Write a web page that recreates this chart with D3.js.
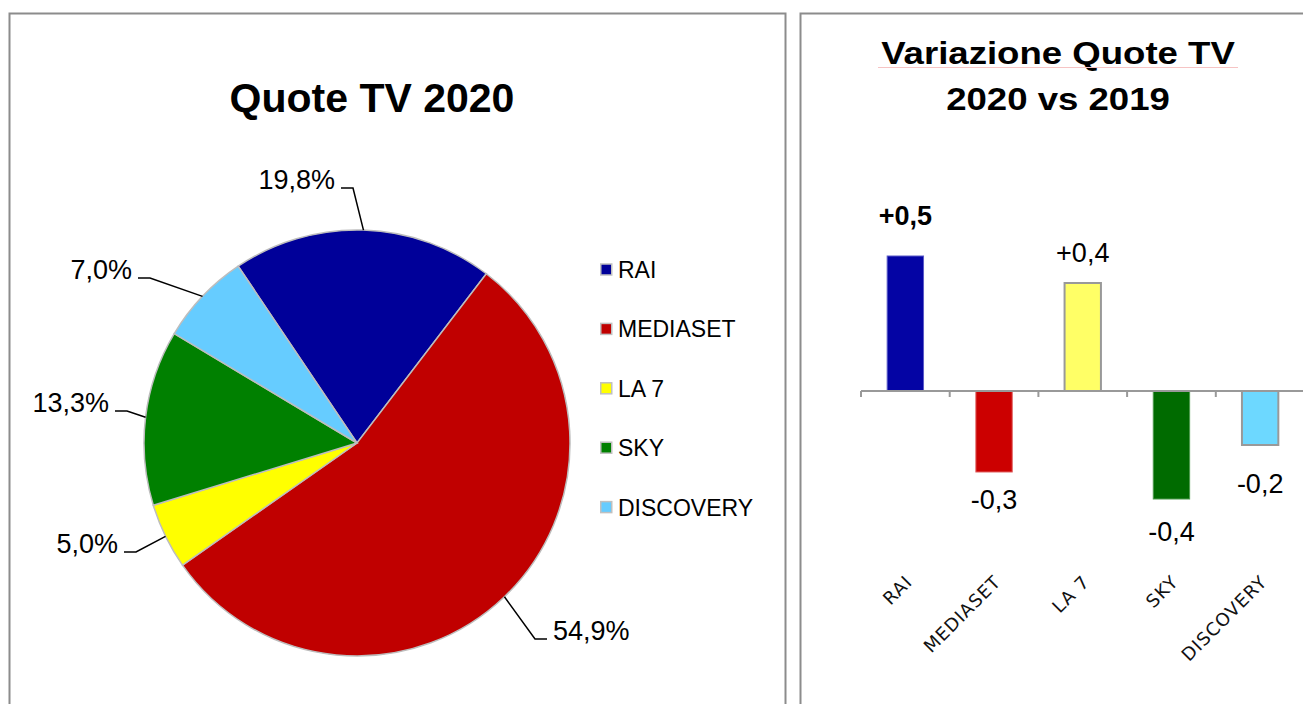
<!DOCTYPE html>
<html>
<head>
<meta charset="utf-8">
<script src="https://cdn.jsdelivr.net/npm/d3@7"></script>
<style>
  body { margin: 0; background: #fff; }
  svg { display: block; font-family: "Liberation Sans", Arial, sans-serif; }
</style>
</head>
<body>
<svg id="chart" width="1303" height="704"></svg>
<script>
// data
var categories = ["RAI", "MEDIASET", "LA 7", "SKY", "DISCOVERY"];
var shares2020 = [19.8, 54.9, 5.0, 13.3, 7.0];
var shareLabels = ["19,8%", "54,9%", "5,0%", "13,3%", "7,0%"];
var delta2020vs2019 = [0.5, -0.3, 0.4, -0.4, -0.2];
var deltaLabels = ["+0,5", "-0,3", "+0,4", "-0,4", "-0,2"];

var pieColors = ["#000099", "#C00000", "#FFFF00", "#008000", "#66CCFF"];
var barColors = ["#0404A4", "#CC0000", "#FFFF66", "#006B00", "#6DD8FF"];
var barStrokes = ["#5a5ac8", "#e06060", "#999999", "#4d9a4d", "#999999"];

// layout for the leader line elbows (relative to pie center) and bar label gaps
var elbowOffsets = [[-4, -255], [178, 196], [-221, 109], [-230, -32], [-207, -165]];
var valueGaps = [31, 37, 21, 42, 48];

var svg = d3.select("#chart");

// panel frames
svg.append("rect")
  .attr("x", 9.5).attr("y", 13.5)
  .attr("width", 776).attr("height", 720)
  .style("fill", "none").style("stroke", "#8c8c8c").style("stroke-width", 2);

svg.append("rect")
  .attr("x", 800.5).attr("y", 13.5)
  .attr("width", 540).attr("height", 720)
  .style("fill", "none").style("stroke", "#8c8c8c").style("stroke-width", 2);

// ---------- pie ----------
svg.append("text")
  .attr("x", 372).attr("y", 112)
  .attr("text-anchor", "middle")
  .style("font-size", "41px").style("font-weight", "bold")
  .text("Quote TV 2020");

var cx = 357, cy = 443, radius = 213;
var startAng = -33.9 * Math.PI / 180;

var pie = d3.pie().sort(null)
  .startAngle(startAng).endAngle(startAng + 2 * Math.PI);
var arcs = pie(shares2020);
var arc = d3.arc().innerRadius(0).outerRadius(radius);

var pieG = svg.append("g").attr("transform", "translate(" + cx + "," + cy + ")");

pieG.selectAll("path.slice")
  .data(arcs)
  .enter().append("path")
  .attr("class", "slice")
  .attr("d", arc)
  .style("fill", function(d, i) { return pieColors[i]; })
  .style("stroke", "#bdbdbd")
  .style("stroke-width", 1.5);

// leader lines + labels
arcs.forEach(function(d, i) {
  var mid = (d.startAngle + d.endAngle) / 2;
  var ex = Math.sin(mid) * radius, ey = -Math.cos(mid) * radius;
  var el = elbowOffsets[i];
  var dir = el[0] > 0 ? 1 : -1;
  var tailX = el[0] + dir * 12;

  pieG.append("path")
    .attr("d", "M" + ex + "," + ey + "L" + el[0] + "," + el[1] + "L" + tailX + "," + el[1])
    .style("fill", "none").style("stroke", "#000").style("stroke-width", 1.5);

  pieG.append("text")
    .attr("x", tailX + dir * 6)
    .attr("y", el[1] + 1)
    .attr("text-anchor", dir > 0 ? "start" : "end")
    .style("font-size", "27px")
    .text(shareLabels[i]);
});

// legend
var legend = svg.append("g").attr("transform", "translate(600,270)");
categories.forEach(function(c, i) {
  var row = legend.append("g").attr("transform", "translate(0," + (i * 59.4) + ")");
  row.append("rect")
    .attr("x", 0.75).attr("y", -6)
    .attr("width", 11).attr("height", 11)
    .style("fill", pieColors[i])
    .style("stroke", "#c0c0c0").style("stroke-width", 1.5);
  row.append("text")
    .attr("x", 18).attr("y", 8)
    .style("font-size", "23px")
    .text(c);
});

// ---------- bars ----------
// title is drawn a bit wider than the font, like the original
var title2 = svg.append("text")
  .attr("transform", "translate(1058,0) scale(1.18,1)")
  .attr("text-anchor", "middle")
  .style("font-size", "31px").style("font-weight", "bold");
title2.append("tspan").attr("x", 0).attr("y", 64).text("Variazione Quote TV");
title2.append("tspan").attr("x", 0).attr("y", 110).text("2020 vs 2019");

svg.append("line")
  .attr("x1", 878).attr("x2", 1238).attr("y1", 67.5).attr("y2", 67.5)
  .style("stroke", "#f6c4c4").style("stroke-width", 1);

var x = d3.scaleBand().domain(categories)
  .range([861, 1304.5])
  .paddingInner(0.59).paddingOuter(0.295);

var y = d3.scaleLinear().domain([-0.6, 0.6]).range([553, 229]);

var barG = svg.append("g");

barG.selectAll("rect.bar")
  .data(delta2020vs2019)
  .enter().append("rect")
  .attr("class", "bar")
  .attr("x", function(d, i) { return x(categories[i]); })
  .attr("y", function(d) { return y(Math.max(0, d)); })
  .attr("width", x.bandwidth())
  .attr("height", function(d) { return Math.abs(y(d) - y(0)); })
  .style("fill", function(d, i) { return barColors[i]; })
  .style("stroke", function(d, i) { return barStrokes[i]; })
  .style("stroke-width", function(d, i) { return (i == 2 || i == 4) ? 2 : 1; });

// category axis
var halfGap = (x.step() - x.bandwidth()) / 2;
barG.append("line")
  .attr("x1", x.range()[0]).attr("x2", 1303)
  .attr("y1", y(0)).attr("y2", y(0))
  .style("stroke", "#999").style("stroke-width", 2);

categories.forEach(function(c) {
  var bx = x(c) - halfGap;
  barG.append("line")
    .attr("x1", bx).attr("x2", bx)
    .attr("y1", y(0)).attr("y2", y(0) + 6)
    .style("stroke", "#999").style("stroke-width", 2);
});

barG.selectAll("text.cat")
  .data(categories)
  .enter().append("text")
  .attr("class", "cat")
  .attr("text-anchor", "end")
  .attr("transform", function(c) {
    return "translate(" + (x(c) + x.bandwidth() / 2 + 8) + ",583) rotate(-45)";
  })
  .style("font-family", "'DejaVu Sans', sans-serif")
  .style("font-size", "18px")
  .style("letter-spacing", "1px")
  .style("fill", "#111")
  .text(function(c) { return c; });

// value labels
barG.selectAll("text.val")
  .data(delta2020vs2019)
  .enter().append("text")
  .attr("class", "val")
  .attr("text-anchor", "middle")
  .attr("x", function(d, i) { return x(categories[i]) + x.bandwidth() / 2; })
  .attr("y", function(d, i) { return d >= 0 ? y(d) - valueGaps[i] : y(d) + valueGaps[i]; })
  .style("font-size", "27px")
  .style("font-weight", function(d, i) { return i == 0 ? "bold" : "normal"; })
  .text(function(d, i) { return deltaLabels[i]; });
</script>
</body>
</html>
